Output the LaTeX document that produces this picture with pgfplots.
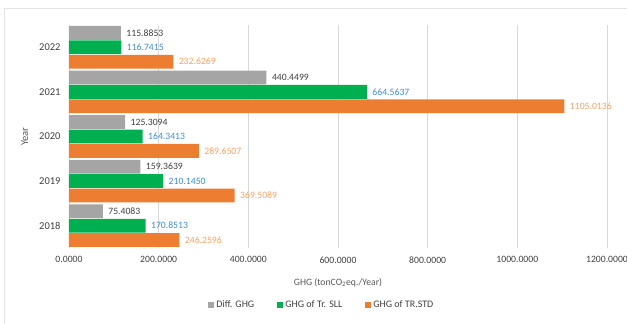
\documentclass[border=0pt]{standalone}
\usepackage{pgfplots}
\pgfplotsset{compat=1.18}
\usepackage{fontspec}
\setmainfont{Carlito}
\definecolor{cgray}{HTML}{A5A5A5}
\definecolor{cgreen}{HTML}{00B050}
\definecolor{corange}{HTML}{ED7D31}
\definecolor{lblue}{HTML}{3E8ED6}
\definecolor{lorange}{HTML}{F4A469}
\definecolor{gridc}{HTML}{D9D9D9}
\definecolor{txt}{HTML}{404040}
\definecolor{ttl}{HTML}{595959}
\begin{document}
\begin{tikzpicture}
\useasboundingbox (0pt,0pt) rectangle (627pt,324pt);
\draw[color=gridc!70, line width=0.8pt] (4.5pt,-20pt) rectangle (660pt,316pt);
\begin{axis}[
  at={(69pt,76pt)}, anchor=south west,
  scale only axis, width=538pt, height=223pt,
  xmin=0, xmax=1200, ymin=-0.5, ymax=4.5,
  xtick={0,200,400,600,800,1000,1200},
  xticklabels={0.0000,200.0000,400.0000,600.0000,800.0000,1000.0000,1200.0000},
  ytick={0,1,2,3,4},
  yticklabels={2018,2019,2020,2021,2022},
  xmajorgrids, grid style={color=gridc, line width=0.8pt},
  axis line style={draw=none},
  major tick length=0pt,
  clip=false,
  tick label style={font=\fontsize{9.7}{11.6}\selectfont, text=txt},
  xticklabel style={yshift=-5pt},
  yticklabel style={xshift=-5pt, font=\fontsize{10.5}{12.6}\selectfont},
  xlabel={GHG (tonCO\textsubscript{2}eq./Year)},
  xlabel style={at={(axis description cs:0.5,-0.155)}, anchor=center, font=\fontsize{9.7}{11.6}\selectfont, text=ttl},
  ylabel={Year},
  ylabel style={at={(axis description cs:-0.082,0.5)}, anchor=center, rotate=0, font=\fontsize{10.5}{12.6}\selectfont, text=ttl},
  point meta=explicit symbolic,
  nodes near coords,
  every node near coord/.append style={anchor=west, xshift=2pt, font=\fontsize{9.7}{11.6}\selectfont},
  legend style={at={(axis description cs:0.47,-0.255)}, anchor=center, draw=none, fill=none,
    font=\fontsize{10}{12}\selectfont, text=txt, legend columns=3,
    /tikz/every even column/.append style={column sep=21pt}},
  legend image code/.code={\fill[#1] (0pt,-3pt) rectangle (6pt,3pt);},
]
\addplot[xbar, bar width=13.8pt, bar shift=14.4pt, fill=cgray, draw=none,
  every node near coord/.append style={text=txt, yshift=14.4pt}]
  coordinates {(75.4083,0) [75.4083] (159.3639,1) [159.3639] (125.3094,2) [125.3094] (440.4499,3) [440.4499] (115.8853,4) [115.8853]};
\addlegendentry{Diff. GHG}
\addplot[xbar, bar width=13.8pt, bar shift=0pt, fill=cgreen, draw=none,
  every node near coord/.append style={text=lblue}]
  coordinates {(170.8513,0) [170.8513] (210.1450,1) [210.1450] (164.3413,2) [164.3413] (664.5637,3) [664.5637] (116.7415,4) [116.7415]};
\addlegendentry{GHG of Tr. SLL}
\addplot[xbar, bar width=13.8pt, bar shift=-14.4pt, fill=corange, draw=none,
  every node near coord/.append style={text=lorange, yshift=-14.4pt}]
  coordinates {(246.2596,0) [246.2596] (369.5089,1) [369.5089] (289.6507,2) [289.6507] (1105.0136,3) [1105.0136] (232.6269,4) [232.6269]};
\addlegendentry{GHG of TR.STD}
\end{axis}
\end{tikzpicture}
\end{document}
